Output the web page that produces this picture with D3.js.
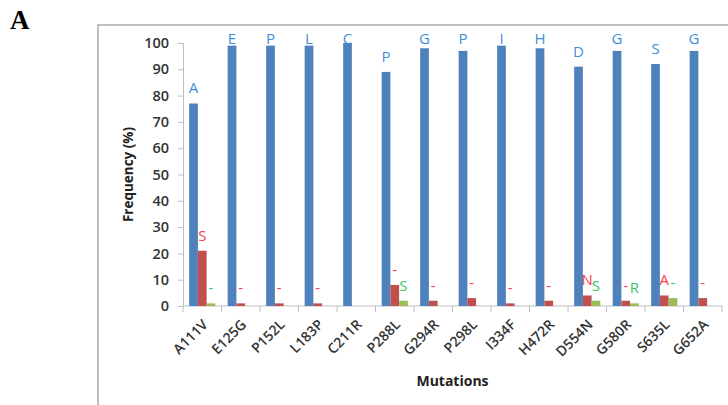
<!DOCTYPE html>
<html>
<head>
<meta charset="utf-8">
<script src="https://cdn.jsdelivr.net/npm/d3@7"></script>
<style>
  body { margin: 0; background: #fff; }
  text { font-family: "Open Sans", sans-serif; }
</style>
</head>
<body>
<script>
// data
const mutations = ['A111V', 'E125G', 'P152L', 'L183P', 'C211R', 'P288L', 'G294R',
    'P298L', 'I334F', 'H472R', 'D554N', 'G580R', 'S635L', 'G652A']
const wildType = [77, 99, 99, 99, 100, 89, 98, 97, 99, 98, 91, 97, 92, 97]
const second = [21, 1, 1, 1, 0, 8, 2, 3, 1, 2, 4, 2, 4, 3]
const third = [1, 0, 0, 0, 0, 2, 0, 0, 0, 0, 2, 1, 3, 0]
// amino acid letters written above each bar
const wildLabels = ['A', 'E', 'P', 'L', 'C', 'P', 'G', 'P', 'I', 'H', 'D', 'G', 'S', 'G']
const secondLabels = ['S', '-', '-', '-', '', '-', '-', '-', '-', '-', 'N', '-', 'A', '-']
const thirdLabels = ['-', '', '', '', '', 'S', '', '', '', '', 'S', 'R', '-', '']
const yTicks = [0, 10, 20, 30, 40, 50, 60, 70, 80, 90, 100]

const m = { width: 728, height: 405, left: 183, right: 722, top: 43, bottom: 306 }
const barColors = ['#4f81bd', '#c0504d', '#9bbb59']
const labelColors = ['#3d8fd9', '#f8404f', '#3cc46a']
const axisColor = '#bfbfbf'

const svg = d3.select('body').append('svg')
    .attr('width', m.width)
    .attr('height', m.height)

// panel letter and outer frame
svg.append('text')
    .attr('x', 10).attr('y', 29)
    .style('font-family', '"Liberation Serif", serif')
    .style('font-weight', 'bold')
    .style('font-size', '27px')
    .text('A')

svg.append('path')
    .attr('d', `M98,405V25H728`)
    .attr('fill', 'none')
    .attr('stroke', axisColor)
    .attr('stroke-width', 2)

// scales
const x = d3.scaleBand()
    .domain(mutations)
    .range([m.left, m.right])
    .paddingInner(0.32)
    .paddingOuter(0.16)

const series = [wildType, second, third]
const sub = d3.scaleBand()
    .domain([0, 1, 2])
    .range([0, x.bandwidth()])

const y = d3.scaleLinear()
    .domain([0, 100])
    .range([m.bottom, m.top])

// y axis
const yAxis = svg.append('g')
    .attr('transform', `translate(${m.left},0)`)
    .call(d3.axisLeft(y).tickValues(yTicks).tickSize(5).tickPadding(9))
yAxis.select('.domain').attr('stroke', axisColor)
yAxis.selectAll('line').attr('stroke', axisColor)
yAxis.selectAll('text')
    .style('font-size', '14.5px')
    .style('font-weight', 600)
    .attr('fill', '#333')

// x axis, ticks between categories like excel
const step = x.step()
const xAxis = svg.append('g')
    .attr('transform', `translate(0,${m.bottom})`)
xAxis.append('line')
    .attr('x1', m.left).attr('x2', m.right)
    .attr('stroke', axisColor)
xAxis.selectAll('.sep')
    .data(d3.range(mutations.length + 1))
    .join('line')
    .attr('class', 'sep')
    .attr('x1', i => m.left + i * step)
    .attr('x2', i => m.left + i * step)
    .attr('y1', 0).attr('y2', 6)
    .attr('stroke', axisColor)
xAxis.selectAll('.lbl')
    .data(mutations)
    .join('text')
    .attr('class', 'lbl')
    .attr('transform', d => `translate(${x(d) + x.bandwidth() / 2 + 3},${16})rotate(-45)`)
    .attr('text-anchor', 'end')
    .attr('dy', '0.35em')
    .style('font-size', '14px')
    .style('font-weight', 600)
    .attr('fill', '#333')
    .text(d => d)

// bars and their letters
series.forEach((vals, s) => {
    svg.append('g').selectAll('rect')
        .data(mutations)
        .join('rect')
        .attr('x', (d, i) => x(d) + sub(s))
        .attr('y', (d, i) => y(vals[i]))
        .attr('width', sub.bandwidth())
        .attr('height', (d, i) => y(0) - y(vals[i]))
        .attr('fill', barColors[s])

    const labels = [wildLabels, secondLabels, thirdLabels][s]
    svg.append('g').selectAll('text')
        .data(mutations)
        .join('text')
        .attr('x', (d, i) => x(d) + sub(s) + sub.bandwidth() / 2)
        .attr('y', (d, i) => Math.max(y(vals[i]) - 10, 44))
        .attr('text-anchor', 'middle')
        .style('font-size', '15px')
        .attr('fill', labelColors[s])
        .text((d, i) => labels[i])
})

// axis titles
svg.append('text')
    .attr('transform', `translate(133,${(m.top + m.bottom) / 2})rotate(-90)`)
    .attr('text-anchor', 'middle')
    .style('font-size', '13.5px')
    .style('font-weight', 'bold')
    .attr('fill', '#222')
    .text('Frequency  (%)')

svg.append('text')
    .attr('x', (m.left + m.right) / 2)
    .attr('y', 386)
    .attr('text-anchor', 'middle')
    .style('font-size', '14px')
    .style('font-weight', 'bold')
    .attr('fill', '#222')
    .text('Mutations')
</script>
</body>
</html>
